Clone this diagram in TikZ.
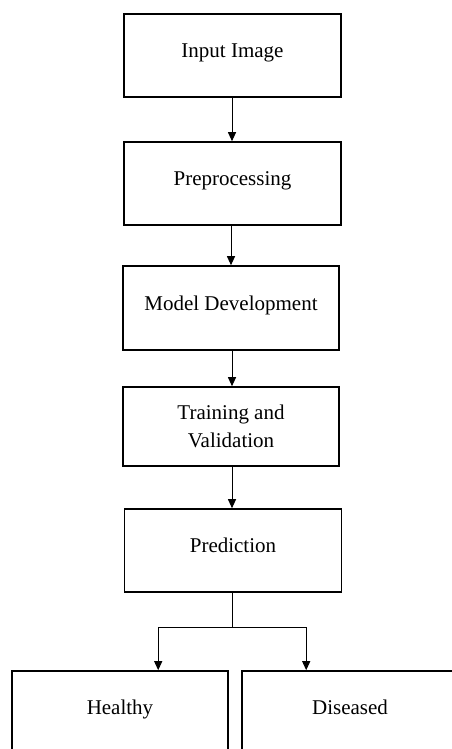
\documentclass[tikz,border=0pt]{standalone}
\usepackage{fontspec}
\setmainfont{Liberation Serif}
\usetikzlibrary{arrows.meta}
\begin{document}
\begin{tikzpicture}[x=1pt,y=-1pt,
  stagebox/.style={draw=black, line width=1.6pt, minimum width=217pt, minimum height=83pt,
    inner sep=0pt, font=\fontsize{21}{27}\selectfont, text height=14pt, text depth=10pt},
  twoline/.style={draw=black, line width=1.6pt, minimum width=216pt, minimum height=79pt,
    inner sep=0pt, font=\fontsize{21}{28}\selectfont, align=center},
  arr/.style={line width=1pt, -{Triangle[width=8pt,length=9pt]}},
  conn/.style={line width=1pt}]
\useasboundingbox (0,0) rectangle (452,749);
\clip (0,0) rectangle (452,749);
\fill[white] (0,0) rectangle (452,749);
\node[stagebox] (inp) at (232.5,55.5) {Input Image};
\node[stagebox] (pre) at (232.5,183.5) {Preprocessing};
\node[stagebox, minimum width=216pt, minimum height=84pt] (mod) at (231,308) {Model Development};
\node[twoline] (trn) at (231,426.5) {Training and\\Validation};
\node[stagebox] (prd) at (233,550.5) {Prediction};
\node[stagebox, minimum width=216pt] (hl) at (120,712.5) {Healthy};
\node[stagebox, minimum width=216pt] (ds) at (350,712.5) {Diseased};
\coordinate (j) at (232,627);
\draw[arr] (inp.south -| 232,0) -- (pre.north -| 232,0);
\draw[arr] (pre.south -| 231,0) -- (mod.north -| 231,0);
\draw[arr] (mod.south -| 232,0) -- (trn.north -| 232,0);
\draw[arr] (trn.south -| 232,0) -- (prd.north -| 232,0);
\draw[conn] (prd.south -| j) -- (j);
\draw[arr] (j) -| ([xshift=147pt]hl.north west);
\draw[arr] (j) -| ([xshift=65pt]ds.north west);
\end{tikzpicture}
\end{document}
